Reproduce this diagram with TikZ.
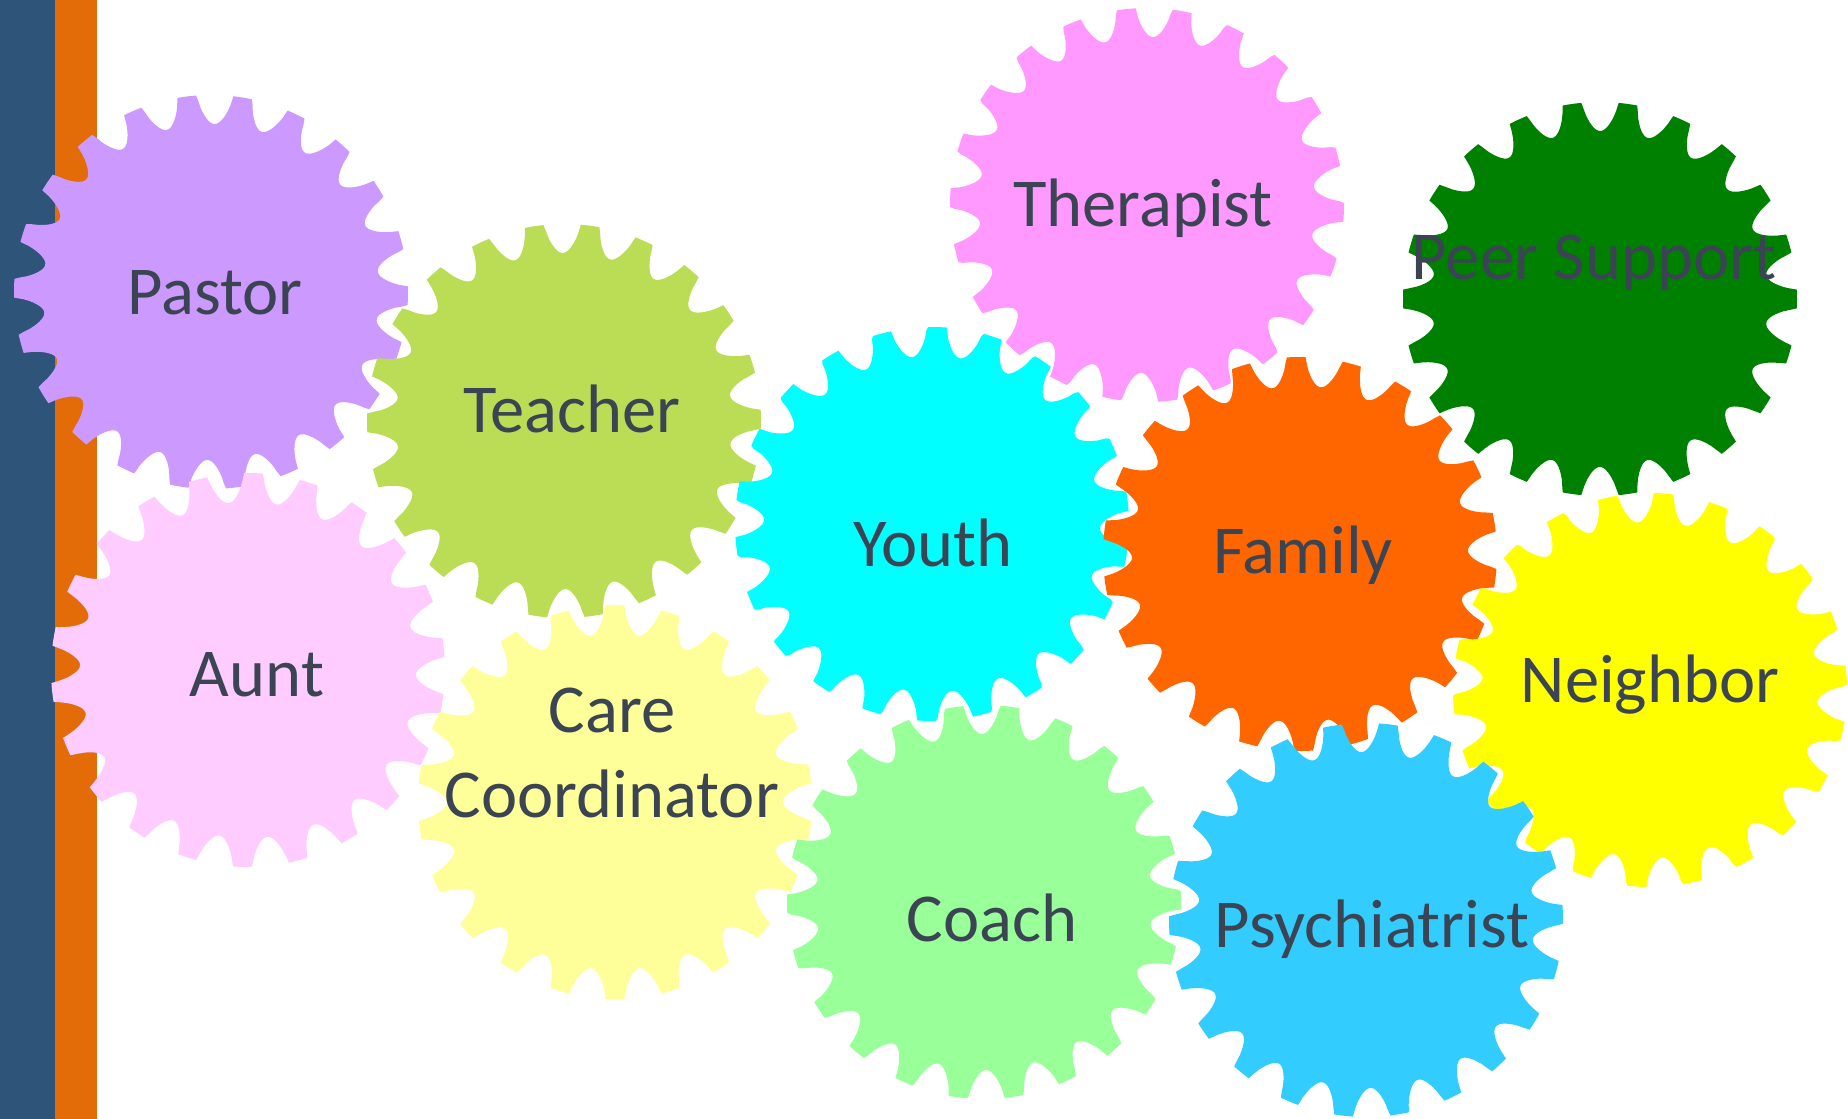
\documentclass[tikz,border=0pt]{standalone}
\usepackage{fontspec}
\setmainfont{Carlito}
\usepackage{xcolor}
\usepackage{tikz}

\definecolor{barblue}{HTML}{2F5479}
\definecolor{barorange}{HTML}{E36C09}
\definecolor{inkgray}{HTML}{3B4453}
\definecolor{pastorcol}{HTML}{CC99FF}
\definecolor{teachercol}{HTML}{BBDC55}
\definecolor{therapistcol}{HTML}{FF99FF}
\definecolor{peercol}{HTML}{008000}
\definecolor{youthcol}{HTML}{00FFFF}
\definecolor{familycol}{HTML}{FF6600}
\definecolor{auntcol}{HTML}{FFCCFF}
\definecolor{carecol}{HTML}{FFFF99}
\definecolor{neighborcol}{HTML}{FFFF00}
\definecolor{coachcol}{HTML}{99FF99}
\definecolor{psychcol}{HTML}{33CCFF}

% cog: x, y, tooth phase, colour
\newcommand{\cog}[4]{%
  \fill[#4,shift={(#1,#2)}] plot[domain=0:360,samples=661,variable=\t]
    (\t:{197-29*sqrt(max(0,(0.4-cos(22*(\t-#3)))/1.4))}) -- cycle;}

\begin{document}
\begin{tikzpicture}[x=0.01cm,y=-0.01cm,
  lbl/.style={text=inkgray,font=\fontsize{19.5}{24}\selectfont,inner sep=0pt,anchor=base}]
\useasboundingbox (0,0) rectangle (1848,1119);
\fill[barblue] (0,0) rectangle (55,1119);
\fill[barorange] (55,0) rectangle (97,1119);
% gears
\cog{211}{292}{1.2}{pastorcol}
\cog{248}{670}{9.8}{auntcol}
\cog{564}{421}{15.9}{teachercol}
\cog{615}{802}{8.1}{carecol}
\cog{932}{524}{9.6}{youthcol}
\cog{1147}{205}{2.0}{therapistcol}
\cog{1300}{554}{7.0}{familycol}
\cog{1600}{299}{0.05}{peercol}
\cog{1650}{690}{12.2}{neighborcol}
\cog{984}{902}{15.66}{coachcol}
\cog{1366}{920}{14.8}{psychcol}
% labels
\node[lbl] (pastor) at (215,315) {Pastor};
\node[lbl] (teacher) at (572,433) {Teacher};
\node[lbl] (therapist) at (1143,227) {Therapist};
\node[lbl] (peer) at (1594,280) {Peer Support};
\node[lbl] (youth) at (933,567) {Youth};
\node[lbl] (family) at (1303,574) {Family};
\node[lbl] (aunt) at (257,697) {Aunt};
\node[lbl,anchor=center,align=center] (care) at (612,753) {Care\\Coordinator};
\node[lbl] (neighbor) at (1650,703) {Neighbor};
\node[lbl] (coach) at (992,942) {Coach};
\node[lbl] (psych) at (1372,948) {Psychiatrist};
\end{tikzpicture}
\end{document}
